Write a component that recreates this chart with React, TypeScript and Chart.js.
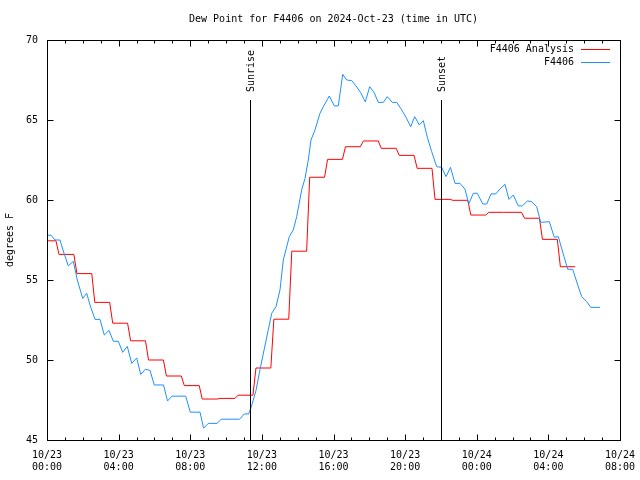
import React, { useEffect, useRef } from 'react';
import { Chart, registerables } from 'chart.js';

Chart.register(...registerables);

const FONT_FAMILY = '"DejaVu Sans Mono", monospace';

const chartTitle = 'Dew Point for F4406 on 2024-Oct-23 (time in UTC)';
const yAxisTitle = 'degrees F';
const seriesNames = ['F4406 Analysis', 'F4406'];
const seriesColors = ['#ff0000', '#1e90ff'];

// x axis: hours since 10/23 00:00 UTC
const xTickHours = [0, 4, 8, 12, 16, 20, 24, 28, 32];
const yTickValues = [45, 50, 55, 60, 65, 70];

const sunriseHour = 11.34;
const sunsetHour = 22.0;

// Hourly analysis values (hour 0 .. hour 29)
const analysisHourly = [
  57.45, 56.6, 55.4, 53.6, 52.3, 51.2, 50.0, 49.0, 48.4, 47.56,
  47.6, 47.8, 49.5, 52.55, 56.8, 61.42, 62.54, 63.33, 63.69, 63.23,
  62.79, 61.98, 60.04, 59.98, 59.06, 59.23, 59.23, 58.86, 57.54, 55.83,
];

// Station observations: time (hours) and dew point (F)
const obsTimes = [
  0, 0.223, 0.447, 0.726, 0.949, 1.19, 1.469, 1.692, 1.994, 2.217,
  2.401, 2.681, 2.96, 3.2, 3.462, 3.703, 3.982, 4.228, 4.485, 4.73,
  5.009, 5.233, 5.49, 5.752, 5.992, 6.506, 6.73, 6.981, 7.746, 8.003,
  8.545, 8.746, 9.008, 9.494, 9.734, 10.756, 11.019, 11.264, 11.393, 11.521,
  11.672, 11.895, 12.549, 12.789, 13.012, 13.197, 13.532, 13.755, 13.945, 14.224,
  14.408, 14.593, 14.743, 14.967, 15.246, 15.431, 15.766, 16.045, 16.268, 16.514,
  16.737, 17.017, 17.257, 17.519, 17.776, 18.022, 18.262, 18.502, 18.781, 19.005,
  19.284, 19.53, 19.809, 20.049, 20.312, 20.535, 20.792, 21.016, 21.239, 21.485,
  21.764, 22.043, 22.283, 22.534, 22.786, 23.065, 23.344, 23.551, 23.808, 24.031,
  24.333, 24.556, 24.796, 25.059, 25.299, 25.578, 25.801, 26.041, 26.321, 26.544,
  26.823, 27.069, 27.348, 27.571, 28.052, 28.331, 28.555, 28.873, 29.08, 29.359,
  29.638, 29.861, 30.14, 30.364, 30.883,
];
const obsValues = [
  57.8, 57.8, 57.5, 57.5, 56.67, 55.88, 56.17, 55.0, 53.85, 54.17,
  53.44, 52.54, 52.54, 51.56, 51.85, 51.17, 51.17, 50.48, 50.85, 49.79,
  50.13, 49.1, 49.42, 49.35, 48.44, 48.44, 47.44, 47.74, 47.74, 46.74,
  46.74, 45.74, 46.04, 46.04, 46.3, 46.3, 46.63, 46.63, 47.02, 47.5,
  48.1, 49.4, 52.92, 53.33, 54.38, 56.25, 57.71, 58.13, 58.96, 60.63,
  61.35, 62.5, 63.75, 64.38, 65.42, 65.83, 66.5, 65.88, 65.88, 67.85,
  67.5, 67.46, 67.13, 66.71, 66.13, 67.08, 66.73, 66.1, 66.1, 66.46,
  66.1, 66.1, 65.63, 65.17, 64.58, 65.21, 64.69, 64.96, 63.92, 63.02,
  62.08, 62.04, 61.46, 62.04, 61.04, 61.04, 60.67, 59.75, 60.42, 60.42,
  59.75, 59.75, 60.38, 60.38, 60.69, 60.98, 60.04, 60.31, 59.63, 59.63,
  59.94, 59.9, 59.58, 58.6, 58.65, 57.67, 57.71, 56.46, 55.67, 55.67,
  54.69, 53.96, 53.65, 53.29, 53.29,
];

// Each analysis value holds for the hour centred on it; the change takes a short ramp.
const RAMP = 0.17;
const analysisPoints: { x: number; y: number }[] = [];
analysisHourly.forEach((v, i) => {
  analysisPoints.push({ x: Math.max(0, i - 0.5 + RAMP), y: v });
  analysisPoints.push({ x: i + 0.5, y: v });
});
const obsPoints = obsTimes.map((t, i) => ({ x: t, y: obsValues[i] }));

function tickLabel(h: number): string[] {
  const day = 23 + Math.floor(h / 24);
  const hh = h % 24;
  return ['10/' + day, (hh < 10 ? '0' : '') + hh + ':00'];
}

const gnuplotPlugin = {
  id: 'gnuplotDecor',
  afterDatasetsDraw(chart: any) {
    const ctx = chart.ctx as CanvasRenderingContext2D;
    const xs = chart.scales.x;
    const { top, bottom } = chart.chartArea;
    ctx.save();
    ctx.strokeStyle = '#000';
    ctx.lineWidth = 1;
    ctx.fillStyle = '#000';
    ctx.font = '10px ' + FONT_FAMILY;
    const events: [number, string][] = [
      [sunriseHour, 'Sunrise'],
      [sunsetHour, 'Sunset'],
    ];
    for (const [h, name] of events) {
      const px = Math.round(xs.getPixelForValue(h)) + 0.5;
      ctx.beginPath();
      ctx.moveTo(px, top + 60);
      ctx.lineTo(px, bottom);
      ctx.stroke();
      ctx.save();
      ctx.translate(px + 1, top + 52);
      ctx.rotate(-Math.PI / 2);
      ctx.textAlign = 'left';
      ctx.textBaseline = 'middle';
      ctx.fillText(name, 0, 0);
      ctx.restore();
    }
    ctx.restore();
  },
  afterDraw(chart: any) {
    const ctx = chart.ctx as CanvasRenderingContext2D;
    const xs = chart.scales.x;
    const ys = chart.scales.y;
    const { left, right, top, bottom } = chart.chartArea;
    ctx.save();
    ctx.strokeStyle = '#000';
    ctx.lineWidth = 1;
    const L = Math.round(left) + 0.5;
    const R = Math.round(right) + 0.5;
    const T = Math.round(top) + 0.5;
    const B = Math.round(bottom) + 0.5;
    ctx.strokeRect(L, T, R - L, B - T);
    ctx.beginPath();
    for (let h = xTickHours[0]; h <= xTickHours[xTickHours.length - 1]; h++) {
      const px = Math.round(xs.getPixelForValue(h)) + 0.5;
      const len = xTickHours.includes(h) ? 6 : 3;
      ctx.moveTo(px, B);
      ctx.lineTo(px, B - len);
      ctx.moveTo(px, T);
      ctx.lineTo(px, T + len);
    }
    for (const v of yTickValues) {
      const py = Math.round(ys.getPixelForValue(v)) + 0.5;
      ctx.moveTo(L, py);
      ctx.lineTo(L + 6, py);
      ctx.moveTo(R, py);
      ctx.lineTo(R - 6, py);
    }
    ctx.stroke();

    ctx.fillStyle = '#000';
    ctx.font = '10px ' + FONT_FAMILY;
    // Title
    ctx.textAlign = 'center';
    ctx.textBaseline = 'middle';
    ctx.fillText(chartTitle, (left + right) / 2, 19);
    // Y axis title
    ctx.save();
    ctx.translate(10, (top + bottom) / 2);
    ctx.rotate(-Math.PI / 2);
    ctx.fillText(yAxisTitle, 0, 0);
    ctx.restore();
    // Legend
    seriesNames.forEach((name, i) => {
      const y = top + 9 + i * 13;
      ctx.textAlign = 'right';
      ctx.textBaseline = 'middle';
      ctx.fillStyle = '#000';
      ctx.fillText(name, right - 46, y + 0.5);
      ctx.strokeStyle = seriesColors[i];
      ctx.beginPath();
      ctx.moveTo(right - 39, Math.round(y) + 0.5);
      ctx.lineTo(right - 10, Math.round(y) + 0.5);
      ctx.stroke();
    });
    ctx.restore();
  },
};

export default function App() {
  const ref = useRef<HTMLCanvasElement>(null);
  useEffect(() => {
    document.body.style.margin = '0';
    const canvas = ref.current!;
    const chart = new Chart(canvas, {
      type: 'line',
      data: {
        datasets: [
          {
            label: seriesNames[0],
            data: analysisPoints,
            borderColor: seriesColors[0],
            backgroundColor: seriesColors[0],
            borderWidth: 1,
            pointRadius: 0,
            tension: 0,
            order: 1,
          },
          {
            label: seriesNames[1],
            data: obsPoints,
            borderColor: seriesColors[1],
            backgroundColor: seriesColors[1],
            borderWidth: 1,
            pointRadius: 0,
            tension: 0,
            order: 0,
          },
        ],
      },
      options: {
        animation: false,
        responsive: false,
        devicePixelRatio: 1,
        parsing: false as any,
        layout: { padding: { top: 40, right: 20, left: 0, bottom: 0 } },
        plugins: {
          legend: { display: false },
          title: { display: false },
          tooltip: { enabled: false },
        },
        scales: {
          x: {
            type: 'linear',
            min: xTickHours[0],
            max: xTickHours[xTickHours.length - 1],
            grid: { display: false, drawTicks: false },
            border: { display: false },
            afterFit: (s: any) => {
              s.height = 40;
              s.paddingLeft = 0;
              s.paddingRight = 0;
            },
            afterBuildTicks: (s: any) => {
              s.ticks = xTickHours.map((v) => ({ value: v }));
            },
            ticks: {
              autoSkip: false,
              maxRotation: 0,
              padding: 9,
              color: '#000',
              font: { family: FONT_FAMILY, size: 10, lineHeight: 1.2 },
              callback: (v: any) => tickLabel(Number(v)),
            },
          },
          y: {
            type: 'linear',
            min: yTickValues[0],
            max: yTickValues[yTickValues.length - 1],
            grid: { display: false, drawTicks: false },
            border: { display: false },
            afterFit: (s: any) => {
              s.width = 47;
              s.paddingTop = 0;
              s.paddingBottom = 0;
            },
            afterBuildTicks: (s: any) => {
              s.ticks = yTickValues.map((v) => ({ value: v }));
            },
            ticks: {
              padding: 9,
              color: '#000',
              font: { family: FONT_FAMILY, size: 10 },
              callback: (v: any) => String(v),
            },
          },
        },
      },
      plugins: [gnuplotPlugin],
    });
    return () => chart.destroy();
  }, []);
  return (
    <div style={{ width: 640, height: 480, position: 'relative', background: '#fff' }}>
      <canvas ref={ref} width={640} height={480} style={{ display: 'block' }} />
    </div>
  );
}
